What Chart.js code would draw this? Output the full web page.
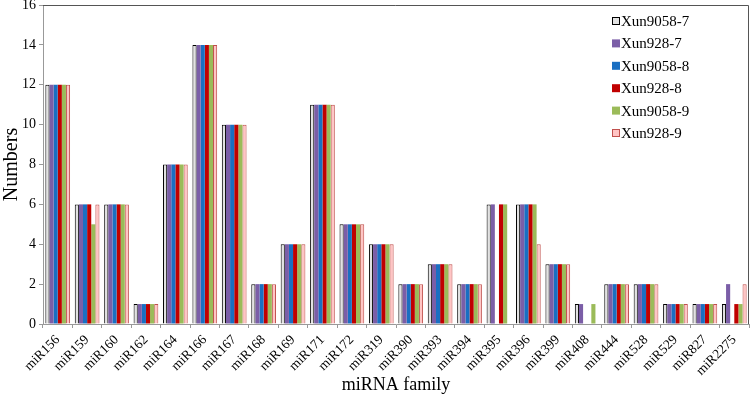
<!DOCTYPE html>
<html>
<head>
<meta charset="utf-8">
<script src="https://cdn.jsdelivr.net/npm/chart.js@4"></script>
<style>
  body { margin: 0; background: #fff; }
  #wrap { width: 750px; height: 400px; }
</style>
</head>
<body>
<div id="wrap"><canvas id="chart"></canvas></div>
<script>
const families = ["miR156","miR159","miR160","miR162","miR164","miR166","miR167","miR168","miR169","miR171","miR172","miR319","miR390","miR393","miR394","miR395","miR396","miR399","miR408","miR444","miR528","miR529","miR827","miR2275"];

const xun9058_7 = [12,6,6,1,8,14,10,2,4,11,5,4,2,3,2,6,6,3,1,2,2,1,1,1];
const xun928_7  = [12,6,6,1,8,14,10,2,4,11,5,4,2,3,2,6,6,3,1,2,2,1,1,2];
const xun9058_8 = [12,6,6,1,8,14,10,2,4,11,5,4,2,3,2,0,6,3,0,2,2,1,1,0];
const xun928_8  = [12,6,6,1,8,14,10,2,4,11,5,4,2,3,2,6,6,3,0,2,2,1,1,1];
const xun9058_9 = [12,5,6,1,8,14,10,2,4,11,5,4,2,3,2,6,6,3,1,2,2,1,1,1];
const xun928_9  = [12,6,6,1,8,14,10,2,4,11,5,4,2,3,2,0,4,3,0,2,2,1,1,2];

const yTicks = [0,2,4,6,8,10,12,14,16];

const serif = "'Liberation Serif', 'DejaVu Serif', serif";

function ds(label, data, fill, border) {
  return {
    label: label,
    data: data,
    backgroundColor: fill,
    borderColor: border,
    borderWidth: border ? 1 : 0,
    barPercentage: 1,
    categoryPercentage: 0.84
  };
}

// legend drawn inside the plot, top right, plus the top/right frame
const insideLegend = {
  id: 'insideLegend',
  afterDraw(chart) {
    const c = chart.ctx;
    const a = chart.chartArea;
    c.save();
    c.strokeStyle = '#555';
    c.lineWidth = 1;
    c.beginPath();
    c.moveTo(a.left, a.top + 0.5);
    c.lineTo(a.right - 0.5, a.top + 0.5);
    c.lineTo(a.right - 0.5, a.bottom);
    c.stroke();

    c.font = "15px " + serif;
    c.textBaseline = 'middle';
    chart.data.datasets.forEach((d, i) => {
      const x = 612, y = 21 + i * 22.4;
      c.fillStyle = d.backgroundColor;
      c.fillRect(x, y - 4, 8, 8);
      if (d.borderColor) {
        c.strokeStyle = d.borderColor;
        c.strokeRect(x + 0.5, y - 3.5, 7, 7);
      }
      c.fillStyle = '#000';
      c.fillText(d.label, x + 9, y + 1);
    });
    c.restore();
  }
};

new Chart(document.getElementById('chart'), {
  type: 'bar',
  data: {
    labels: families,
    datasets: [
      ds('Xun9058-7', xun9058_7, '#e2e2e2', '#000000'),
      ds('Xun928-7', xun928_7, '#7b5ea7', null),
      ds('Xun9058-8', xun9058_8, '#1a6fc2', null),
      ds('Xun928-8', xun928_8, '#c00000', null),
      ds('Xun9058-9', xun9058_9, '#9bbb59', null),
      ds('Xun928-9', xun928_9, '#ffc4c4', '#c0504d')
    ]
  },
  options: {
    responsive: true,
    maintainAspectRatio: false,
    animation: false,
    layout: { padding: { top: 0, right: 1, left: 0, bottom: 1 } },
    plugins: {
      legend: { display: false },
      tooltip: { enabled: false }
    },
    scales: {
      x: {
        afterFit: axis => { axis.height = 75; },
        grid: { drawOnChartArea: false, drawTicks: true, tickLength: 4, color: '#999' },
        border: { color: '#999' },
        ticks: {
          color: '#000',
          font: { family: serif, size: 13.5 },
          minRotation: 45,
          maxRotation: 45,
          padding: 4
        },
        title: {
          display: true,
          text: 'miRNA family',
          color: '#000',
          font: { family: serif, size: 18 },
          padding: { top: 0, bottom: 3 }
        }
      },
      y: {
        min: 0,
        max: 16,
        afterFit: axis => { axis.width = 43; axis.paddingTop = 5; },
        afterBuildTicks: axis => { axis.ticks = yTicks.map(v => ({ value: v })); },
        grid: { drawOnChartArea: false, drawTicks: true, tickLength: 4, color: '#999' },
        border: { color: '#999' },
        ticks: {
          color: '#000',
          font: { family: serif, size: 14 },
          padding: 3
        },
        title: {
          display: true,
          text: 'Numbers',
          color: '#000',
          font: { family: serif, size: 20 },
          padding: { top: 0, bottom: 2 }
        }
      }
    }
  },
  plugins: [insideLegend]
});
</script>
</body>
</html>
